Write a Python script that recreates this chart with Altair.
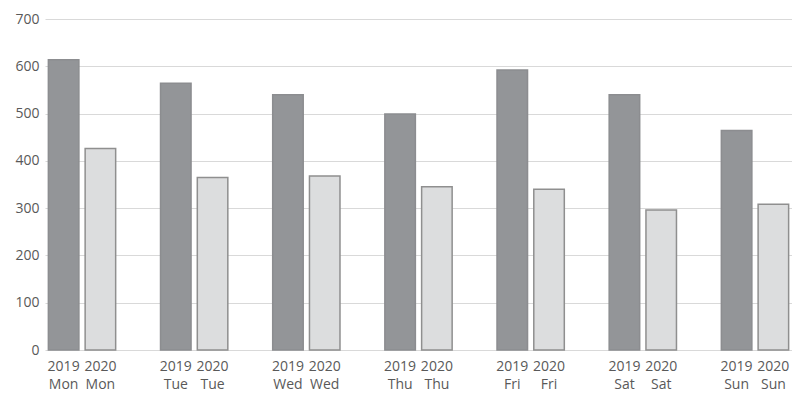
import altair as alt
import pandas as pd

days = ["Mon", "Tue", "Wed", "Thu", "Fri", "Sat", "Sun"]
v2019 = [614, 564, 540, 499, 592, 540, 464]
v2020 = [426, 365, 368, 345, 340, 296, 308]
years = ["2019", "2020"]

rows = []
for d, a, b in zip(days, v2019, v2020):
    rows.append({"day": d, "year": "2019", "value": a, "label": f"2019\n{d}"})
    rows.append({"day": d, "year": "2020", "value": b, "label": f"2020\n{d}"})
df = pd.DataFrame(rows)

W, H = 747, 331
FONT = "Open Sans"
TXT = "#595959"

x = alt.X("day:N", sort=days, axis=None,
          scale=alt.Scale(paddingInner=0.4, paddingOuter=0.03))
xo = alt.XOffset("year:N", sort=years, scale=alt.Scale(paddingInner=0.17, paddingOuter=0))

bars = alt.Chart(df).mark_bar(strokeWidth=1.5).encode(
    x=x,
    xOffset=xo,
    y=alt.Y("value:Q", scale=alt.Scale(domain=[0, 700], nice=False),
            axis=alt.Axis(values=list(range(0, 701, 100)), title=None, domain=False,
                          ticks=False, grid=True, gridColor="#d9d9d9", gridWidth=1.2,
                          labelPadding=6, labelFont=FONT, labelFontSize=14,
                          labelColor=TXT)),
    fill=alt.Fill("year:N", scale=alt.Scale(domain=years, range=["#939598", "#dcddde"]),
                  legend=None),
    stroke=alt.Stroke("year:N", scale=alt.Scale(domain=years, range=["#8c8d90", "#8f8f8f"]),
                      legend=None),
)

labels = alt.Chart(df).mark_text(lineBreak="\n", font=FONT, fontSize=14, color=TXT,
                                 baseline="top", lineHeight=18).encode(
    x=x,
    xOffset=xo,
    y=alt.value(H + 10),
    text="label:N",
)

chart = alt.layer(bars, labels).properties(
    width=W, height=H,
    padding={"left": 37, "top": 11, "right": 0, "bottom": 46},
    autosize=alt.AutoSizeParams(type="none"),
).configure_view(stroke=None)

chart.save("out.html", embed_options={"renderer": "svg", "actions": False})
